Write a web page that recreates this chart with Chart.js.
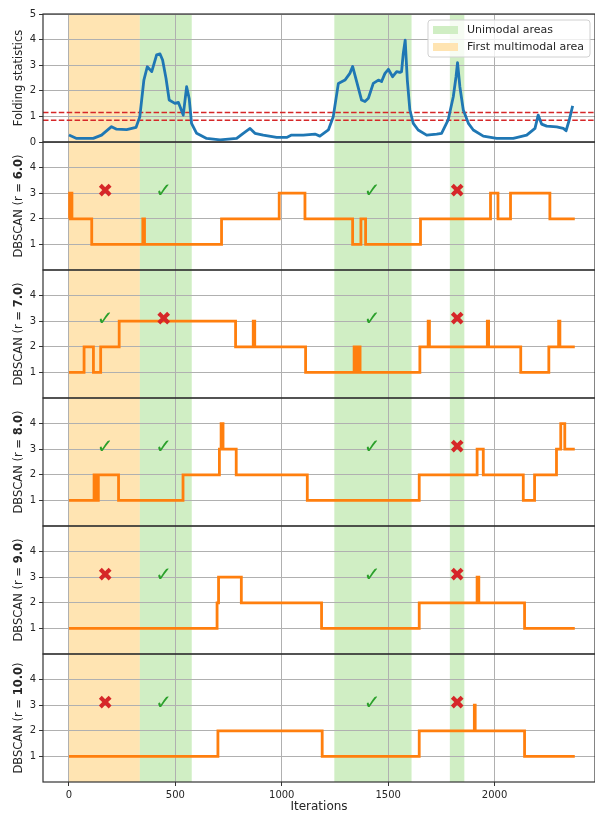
<!DOCTYPE html>
<html>
<head>
<meta charset="utf-8">
<script src="https://cdn.jsdelivr.net/npm/chart.js@4.4.1/dist/chart.umd.min.js"></script>
<style>
  html, body { margin: 0; padding: 0; background: #fff; overflow: hidden; }
  #wrap { width: 595px; height: 814px; }
</style>
</head>
<body>
<div id="wrap"><canvas id="panels"></canvas></div>
<script>
// shared x range (iterations)
const xMin = -122;
const xMax = 2472;
const xTickValues = [0, 500, 1000, 1500, 2000];
const lastIteration = 2377;

// folding statistics curve
const foldX = [0, 36, 114, 153, 200, 224, 271, 315, 333, 352, 368, 389, 412, 428, 440, 456, 471, 498, 514, 537, 553, 565, 576, 600, 647, 710, 788, 819, 851, 874, 913, 976, 1023, 1046, 1101, 1156, 1179, 1219, 1242, 1266, 1297, 1320, 1333, 1352, 1375, 1391, 1407, 1430, 1454, 1469, 1485, 1501, 1521, 1540, 1555, 1563, 1571, 1580, 1590, 1602, 1618, 1641, 1681, 1728, 1751, 1782, 1806, 1819, 1826, 1837, 1853, 1877, 1900, 1947, 2010, 2088, 2151, 2190, 2205, 2221, 2245, 2292, 2323, 2336, 2351, 2367];
const foldY = [0.27, 0.14, 0.14, 0.27, 0.6, 0.5, 0.48, 0.57, 0.99, 2.42, 2.94, 2.75, 3.4, 3.44, 3.2, 2.49, 1.64, 1.51, 1.55, 1.05, 2.16, 1.7, 0.73, 0.34, 0.14, 0.08, 0.14, 0.34, 0.53, 0.34, 0.27, 0.18, 0.18, 0.27, 0.27, 0.31, 0.23, 0.47, 0.99, 2.29, 2.42, 2.68, 2.95, 2.36, 1.64, 1.58, 1.71, 2.29, 2.42, 2.36, 2.68, 2.84, 2.55, 2.75, 2.72, 2.75, 3.46, 3.98, 2.42, 1.25, 0.73, 0.47, 0.27, 0.31, 0.34, 0.86, 1.77, 2.55, 3.1, 2.16, 1.25, 0.73, 0.47, 0.23, 0.14, 0.14, 0.27, 0.53, 1.05, 0.7, 0.62, 0.59, 0.53, 0.44, 0.86, 1.41];
const upperThreshold = 1.15;
const lowerThreshold = 0.85;

// shaded regions
const multimodalSpans = [[0, 333]];
const unimodalSpans = [[333, 577], [1247, 1610], [1790, 1858]];

// DBSCAN cluster counts: iteration where a level starts, and the level
const r6Starts = [0, 3, 14, 107, 347, 355, 717, 988, 1109, 1333, 1372, 1394, 1652, 1981, 2016, 2075, 2260];
const r6Levels = [2, 3, 2, 1, 2, 1, 2, 3, 2, 1, 2, 1, 2, 3, 2, 3, 2];
const r7Starts = [0, 71, 115, 149, 236, 783, 866, 873, 1112, 1340, 1349, 1358, 1368, 1649, 1688, 1694, 1966, 1972, 2123, 2255, 2301, 2307];
const r7Levels = [1, 2, 1, 2, 3, 2, 3, 2, 1, 2, 1, 2, 1, 2, 3, 2, 3, 2, 1, 2, 3, 2];
const r8Starts = [0, 118, 124, 130, 134, 138, 233, 536, 707, 715, 724, 786, 1120, 1646, 1918, 1947, 2135, 2188, 2291, 2311, 2330];
const r8Levels = [1, 2, 1, 2, 1, 2, 1, 2, 3, 4, 3, 2, 1, 2, 3, 2, 1, 2, 3, 4, 3];
const r9Starts = [0, 696, 703, 810, 1187, 1646, 1918, 1926, 2141];
const r9Levels = [1, 2, 3, 2, 1, 2, 3, 2, 1];
const r10Starts = [0, 700, 1190, 1646, 1905, 1909, 2141];
const r10Levels = [1, 2, 1, 2, 3, 2, 1];

// verdict marks per panel (v = check, x = cross)
const markerX = [170, 445, 1425, 1825];
const markerLevel = 3.05;
const r6Marks = ['x', 'v', 'v', 'x'];
const r7Marks = ['v', 'x', 'v', 'x'];
const r8Marks = ['v', 'v', 'v', 'x'];
const r9Marks = ['x', 'v', 'v', 'x'];
const r10Marks = ['x', 'v', 'v', 'x'];

const FONT = "'DejaVu Sans', sans-serif";
const TEXT = '#262626';
const BLUE = '#1f77b4';
const ORANGE = '#ff7f0e';
const GREEN_FILL = 'rgba(100, 200, 60, 0.3)';
const ORANGE_FILL = 'rgba(255, 165, 0, 0.3)';

const panels = [
  { id: 'y6', radius: '6.0', starts: r6Starts, levels: r6Levels, marks: r6Marks },
  { id: 'y7', radius: '7.0', starts: r7Starts, levels: r7Levels, marks: r7Marks },
  { id: 'y8', radius: '8.0', starts: r8Starts, levels: r8Levels, marks: r8Marks },
  { id: 'y9', radius: '9.0', starts: r9Starts, levels: r9Levels, marks: r9Marks },
  { id: 'y10', radius: '10.0', starts: r10Starts, levels: r10Levels, marks: r10Marks }
];

function stepPoints(starts, levels) {
  const pts = starts.map((x, i) => ({ x: x, y: levels[i] }));
  pts.push({ x: lastIteration, y: levels[levels.length - 1] });
  return pts;
}

function panelAxis(tickValues) {
  return {
    type: 'linear',
    position: 'left',
    stack: 'panels',
    stackWeight: 1,
    min: 0,
    max: 5,
    afterBuildTicks: s => { s.ticks = tickValues.map(v => ({ value: v })); },
    afterFit: s => { s.width = 43; },
    grid: { color: '#b0b0b0', lineWidth: 1, tickLength: 4, tickColor: '#333' },
    border: { display: false },
    ticks: { font: { family: FONT, size: 10 }, color: TEXT, padding: 3, autoSkip: false, callback: v => String(v) }
  };
}

const datasets = [
  {
    label: 'Folding statistics',
    yAxisID: 'yFold',
    data: foldX.map((x, i) => ({ x: x, y: foldY[i] })),
    borderColor: BLUE,
    borderWidth: 2.8,
    borderJoinStyle: 'round',
    pointRadius: 0,
    tension: 0
  },
  {
    label: 'upper',
    yAxisID: 'yFold',
    data: [{ x: xMin, y: upperThreshold }, { x: xMax, y: upperThreshold }],
    borderColor: '#d62728',
    borderWidth: 1.4,
    borderDash: [5.5, 2.4],
    pointRadius: 0
  },
  {
    label: 'lower',
    yAxisID: 'yFold',
    data: [{ x: xMin, y: lowerThreshold }, { x: xMax, y: lowerThreshold }],
    borderColor: '#d62728',
    borderWidth: 1.4,
    borderDash: [5.5, 2.4],
    pointRadius: 0
  }
];

panels.forEach(p => {
  datasets.push({
    label: 'DBSCAN r=' + p.radius,
    yAxisID: p.id,
    data: stepPoints(p.starts, p.levels),
    stepped: true,
    borderColor: ORANGE,
    borderWidth: 2.8,
    pointRadius: 0
  });
});

// stacked axes are placed bottom-up, so the lowest panel goes first
const scales = {
  x: {
    type: 'linear',
    min: xMin,
    max: xMax,
    afterBuildTicks: s => { s.ticks = xTickValues.map(v => ({ value: v })); },
    afterFit: s => { s.height = 32; },
    grid: { color: '#b0b0b0', lineWidth: 1, tickLength: 4, tickColor: '#333' },
    border: { display: false },
    ticks: { font: { family: FONT, size: 10 }, color: TEXT, padding: 3, maxRotation: 0, autoSkip: false, callback: v => String(v) },
    title: { display: true, text: 'Iterations', font: { family: FONT, size: 12 }, color: TEXT, padding: { top: 0, bottom: 0 } }
  }
};
panels.slice().reverse().forEach(p => { scales[p.id] = panelAxis([1, 2, 3, 4]); });
scales.yFold = panelAxis([0, 1, 2, 3, 4, 5]);

const yTitles = { yFold: [['Folding statistics', false]] };
panels.forEach(p => { yTitles[p.id] = [['DBSCAN (r = ', false], [p.radius, true], [')', false]]; });

const decor = {
  id: 'decor',
  beforeDraw(chart) {
    const { ctx, chartArea, scales } = chart;
    const x = scales.x;
    ctx.save();
    const fillSpan = (span, color) => {
      const a = x.getPixelForValue(span[0]);
      const b = x.getPixelForValue(span[1]);
      ctx.fillStyle = color;
      ctx.fillRect(a, chartArea.top, b - a, chartArea.bottom - chartArea.top);
    };
    multimodalSpans.forEach(s => fillSpan(s, ORANGE_FILL));
    unimodalSpans.forEach(s => fillSpan(s, GREEN_FILL));
    ctx.restore();
  },
  afterDatasetsDraw(chart) {
    const { ctx, scales } = chart;
    ctx.save();
    ctx.textAlign = 'center';
    ctx.textBaseline = 'middle';
    panels.forEach(p => {
      const y = scales[p.id].getPixelForValue(markerLevel);
      p.marks.forEach((m, i) => {
        const px = scales.x.getPixelForValue(markerX[i]);
        if (m === 'v') {
          ctx.fillStyle = '#2ca02c';
          ctx.font = 'bold 20px ' + FONT;
          ctx.fillText('\u2713', px, y);
        } else {
          ctx.fillStyle = '#d62728';
          ctx.font = '19px ' + FONT;
          ctx.fillText('\u2716', px, y);
        }
      });
    });
    ctx.restore();
  },
  afterDraw(chart) {
    const { ctx, chartArea, scales } = chart;
    ctx.save();
    // panel frames
    ctx.strokeStyle = '#333';
    ctx.lineWidth = 1.2;
    Object.keys(yTitles).forEach(id => {
      const s = scales[id];
      ctx.strokeRect(chartArea.left, s.top, chartArea.right - chartArea.left, s.bottom - s.top);
    });
    // y titles
    ctx.fillStyle = TEXT;
    ctx.textBaseline = 'middle';
    ctx.textAlign = 'left';
    Object.keys(yTitles).forEach(id => {
      const s = scales[id];
      const parts = yTitles[id];
      let total = 0;
      const widths = parts.map(([t, bold]) => {
        ctx.font = (bold ? 'bold ' : '') + '11.5px ' + FONT;
        const w = ctx.measureText(t).width;
        total += w;
        return w;
      });
      ctx.save();
      ctx.translate(19, (s.top + s.bottom) / 2);
      ctx.rotate(-Math.PI / 2);
      let cx = -total / 2;
      parts.forEach(([t, bold], i) => {
        ctx.font = (bold ? 'bold ' : '') + '11.5px ' + FONT;
        ctx.fillText(t, cx, 0);
        cx += widths[i];
      });
      ctx.restore();
    });
    // legend in the top panel
    const top = scales.yFold.top + 6;
    const right = chartArea.right - 5;
    const entries = [['Unimodal areas', GREEN_FILL], ['First multimodal area', ORANGE_FILL]];
    ctx.font = '11px ' + FONT;
    const textW = Math.max(...entries.map(e => ctx.measureText(e[0]).width));
    const w = 5 + 25 + 9 + textW + 6;
    const h = 37;
    const left = right - w;
    ctx.beginPath();
    ctx.roundRect(left, top, w, h, 3);
    ctx.fillStyle = 'rgba(255,255,255,0.8)';
    ctx.fill();
    ctx.strokeStyle = '#d0d0d0';
    ctx.lineWidth = 1;
    ctx.stroke();
    entries.forEach(([label, color], i) => {
      const rowY = top + 10 + i * 17;
      ctx.fillStyle = '#fff';
      ctx.fillRect(left + 5, rowY - 4, 25, 8);
      ctx.fillStyle = color;
      ctx.fillRect(left + 5, rowY - 4, 25, 8);
      ctx.fillStyle = TEXT;
      ctx.fillText(label, left + 39, rowY);
    });
    ctx.restore();
  }
};

new Chart(document.getElementById('panels'), {
  type: 'line',
  data: { datasets: datasets },
  options: {
    responsive: true,
    maintainAspectRatio: false,
    animation: false,
    parsing: false,
    layout: { padding: { top: 14, right: 0, left: 0, bottom: 0 } },
    scales: scales,
    plugins: {
      legend: { display: false },
      tooltip: { enabled: false }
    }
  },
  plugins: [decor]
});
</script>
</body>
</html>
